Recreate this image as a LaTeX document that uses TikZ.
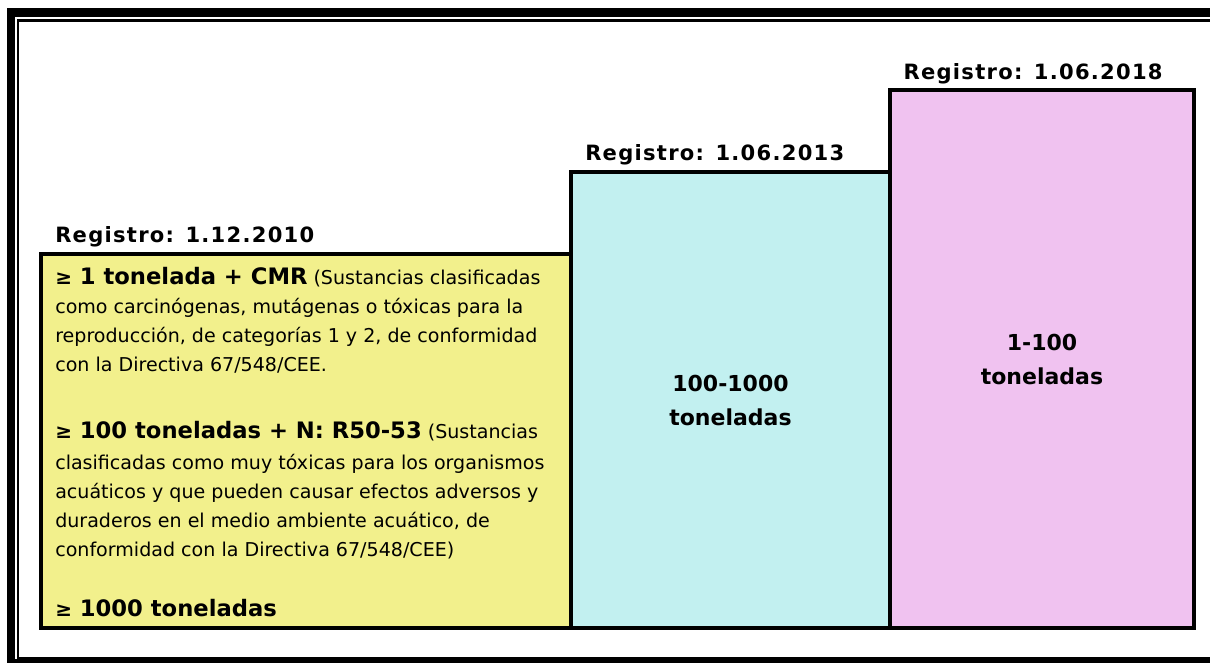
\documentclass[tikz,border=0pt]{standalone}
\usepackage{fontspec}
\setmainfont{DejaVu Sans}
\newfontfamily\datefont[LetterSpace=6]{DejaVu Sans}
\usetikzlibrary{positioning}

\definecolor{phaseone}{RGB}{242,240,140}
\definecolor{phasetwo}{RGB}{194,240,240}
\definecolor{phasethree}{RGB}{240,194,240}

\newcommand{\gesign}{{\fontsize{15}{21.75}\selectfont ≥}}
\newcommand{\tonhead}[1]{{\fontsize{17}{21.75}\selectfont\bfseries #1}}

\begin{document}
\begin{tikzpicture}[
x=0.75pt, y=-0.75pt,
tier/.style={draw, line width=2.6pt, outer sep=0pt, inner sep=0pt, anchor=south west,
  align=center, font=\fontsize{16.5}{25.5}\selectfont\bfseries},
datelabel/.style={anchor=base west, inner sep=0pt, font=\datefont\bfseries\fontsize{15.8}{18}\selectfont},
body/.style={anchor=north west, inner sep=0pt, align=left, font=\fontsize{14.3}{21.75}\selectfont}
]
\clip (0,0) rectangle (1210,662);
\useasboundingbox (0,0) rectangle (1210,662);

% frame
\draw[line width=6.4pt] (1250,12.5) -| (11,663.5) -- (1250,663.5);
\draw[line width=1.9pt] (1250,20.5) -| (18,658) -- (1250,658);

% the three steps
\node[tier, fill=phaseone, minimum width=397.5pt, minimum height=280.5pt] (t2010) at (41,628) {};
\node[tier, fill=phasetwo, minimum width=239.25pt, minimum height=342pt] (t2013) at (t2010.south east) {100-1000\\toneladas};
\node[tier, fill=phasethree, minimum width=228pt, minimum height=403.5pt] (t2018) at (t2013.south east) {1-100\\toneladas};

\node[datelabel] (r2010) at ([xshift=10.5pt,yshift=9pt]t2010.north west) {Registro: 1.12.2010};
\node[datelabel] (r2013) at ([xshift=10.5pt,yshift=9pt]t2013.north west) {Registro: 1.06.2013};
\node[datelabel] (r2018) at ([xshift=10pt,yshift=8pt]t2018.north west) {Registro: 1.06.2018};

\node[body] (reqs) at ([xshift=10.5pt,yshift=-10pt]t2010.north west) {%
\tonhead{\gesign\ 1 tonelada + CMR} (Sustancias clasificadas\\
como carcinógenas, mutágenas o tóxicas para la\\
reproducción, de categorías 1 y 2, de conformidad\\
con la Directiva 67/548/CEE.\\[28.5pt]
\tonhead{\gesign\ 100 toneladas + N: R50-53} (Sustancias\\[1pt]
clasificadas como muy tóxicas para los organismos\\
acuáticos y que pueden causar efectos adversos y\\
duraderos en el medio ambiente acuático, de\\
conformidad con la Directiva 67/548/CEE)\\[23.5pt]
\tonhead{\gesign\ 1000 toneladas}};
\end{tikzpicture}
\end{document}
